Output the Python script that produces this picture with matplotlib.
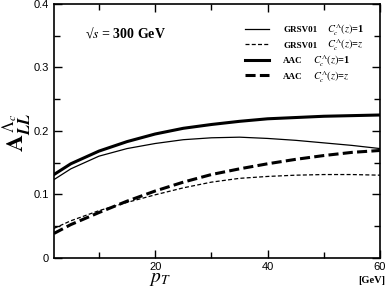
import matplotlib
matplotlib.use("Agg")
import matplotlib.pyplot as plt
from matplotlib.ticker import MultipleLocator

plt.rcParams['font.family'] = ['Liberation Sans', 'DejaVu Sans']
plt.rcParams['mathtext.fontset'] = 'stix'

# transverse momentum grid [GeV]
pt = [2, 5, 10, 15, 20, 25, 30, 35, 40, 45, 50, 55, 60]

# A_LL for Lambda_c
grsv_c1 = [0.123, 0.140, 0.160, 0.172, 0.180, 0.186, 0.189, 0.190, 0.188, 0.185, 0.181, 0.177, 0.172]
grsv_cz = [0.046, 0.058, 0.074, 0.087, 0.099, 0.110, 0.119, 0.125, 0.128, 0.130, 0.131, 0.131, 0.130]
aac_c1 = [0.131, 0.148, 0.168, 0.183, 0.195, 0.204, 0.210, 0.215, 0.219, 0.221, 0.223, 0.224, 0.225]
aac_cz = [0.038, 0.052, 0.071, 0.089, 0.105, 0.119, 0.131, 0.140, 0.148, 0.155, 0.161, 0.166, 0.169]

yticks = [0, 0.1, 0.2, 0.3, 0.4]
ytick_labels = ['0', '0.1', '0.2', '0.3', '0.4']

pdf_names = ['GRSV01', 'GRSV01', 'AAC', 'AAC']
frag_labels = [r'$C_c^{\Lambda}(z)$=1', r'$C_c^{\Lambda}(z)$=$z$',
               r'$C_c^{\Lambda}(z)$=1', r'$C_c^{\Lambda}(z)$=$z$']

thin_dash = (0, (3.2, 1.8))
thick_dash = (0, (3.3, 1.4))

fig = plt.figure(figsize=(3.91, 2.95), dpi=100)
ax = fig.add_axes([0.138, 0.127, 0.834, 0.859])

ax.plot(pt, grsv_c1, color='black', lw=0.9, label=pdf_names[0])
ax.plot(pt, grsv_cz, color='black', lw=0.9, ls=thin_dash, label=pdf_names[1])
ax.plot(pt, aac_c1, color='black', lw=2.2, label=pdf_names[2])
ax.plot(pt, aac_cz, color='black', lw=2.2, ls=thick_dash, label=pdf_names[3])

ax.set_xlim(2, 60)
ax.set_ylim(0, 0.4)
ax.xaxis.set_major_locator(MultipleLocator(20))
ax.xaxis.set_minor_locator(MultipleLocator(10))
ax.set_yticks(yticks)
ax.set_yticklabels(ytick_labels)
ax.yaxis.set_minor_locator(MultipleLocator(0.05))
ax.tick_params(which='both', direction='in', top=True, right=True, labelsize=8, width=1)
ax.tick_params(which='major', length=6)
ax.tick_params(which='minor', length=4)
for s in ax.spines.values():
    s.set_linewidth(1.2)

leg = ax.legend(loc='upper left', bbox_to_anchor=(0.586, 0.915), frameon=False,
                borderpad=0, borderaxespad=0, handlelength=2.63, handletextpad=1.6,
                labelspacing=0.8,
                prop={'family': 'Liberation Serif', 'weight': 'bold', 'size': 6.5})

# put the fragmentation-function part right after each legend name
fig.canvas.draw()
inv = fig.transFigure.inverted()
for txt, lab in zip(leg.get_texts(), frag_labels):
    bb = txt.get_window_extent()
    x0, y0 = inv.transform((bb.x1 + 10, (bb.y0 + bb.y1) / 2))
    fig.text(x0, y0, lab, family='Liberation Serif', weight='bold',
             fontsize=7.5, va='center')

ax.text(0.095, 0.886, '\u221a' + r'$s$ = 300 GeV', transform=ax.transAxes,
        family='Liberation Serif', weight='bold', fontsize=10, va='center')

fig.text(0.045, 0.55, r'$\mathbf{A}_{\mathbfit{LL}}^{\,\Lambda_c}$', rotation=90,
         fontsize=17, ha='center', va='center')
fig.text(0.41, 0.044, r'$p_T$', fontsize=14, ha='center', va='baseline')
fig.text(0.951, 0.05, '[GeV]', family='Liberation Serif', weight='bold',
         fontsize=7.5, ha='center', va='center')

fig.savefig('out.png', dpi=100)
